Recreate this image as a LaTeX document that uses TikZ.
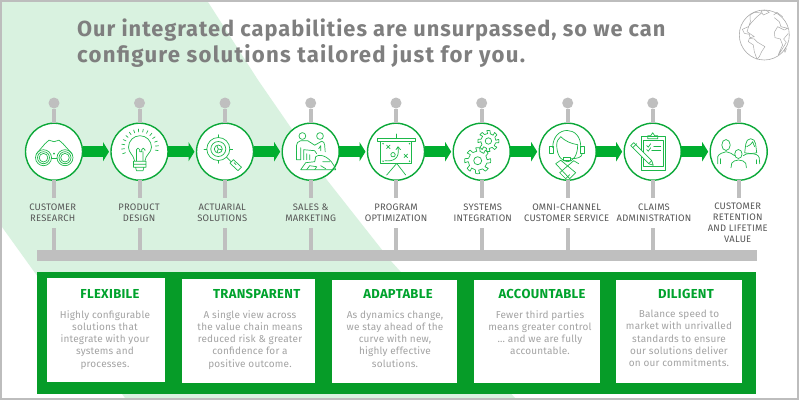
\documentclass[tikz,border=0pt]{standalone}
\usepackage{fontspec}
\setmainfont{Fira Sans}
\newfontfamily\titlefont[LetterSpace=4.5]{Fira Sans}
\newfontfamily\titlefontb[LetterSpace=5.5]{Fira Sans}
\newfontfamily\bodyfont[LetterSpace=2.5]{Fira Sans}
\newfontfamily\cardfont[LetterSpace=1.9]{Fira Sans}
\usetikzlibrary{arrows.meta}
\definecolor{framegray}{HTML}{BDBDBD}
\definecolor{softgreen}{HTML}{D9F2E0}
\definecolor{stemgray}{HTML}{BFBFBF}
\definecolor{ringgreen}{HTML}{0BA838}
\definecolor{arrowgreen}{HTML}{00AE2F}
\definecolor{iconline}{HTML}{1DB84A}
\definecolor{panelgreen}{HTML}{069C28}
\definecolor{headgreen}{HTML}{00A32D}
\definecolor{titlegray}{HTML}{7F7F7F}
\definecolor{bodygray}{HTML}{A3A3A3}
\definecolor{labelgray}{HTML}{555555}
\definecolor{globegray}{HTML}{ABABAB}
\tikzset{
  ring/.style={circle,draw=ringgreen,line width=1.4pt,fill=white,minimum size=57pt,inner sep=0pt,outer sep=0pt},
  pin/.style={circle,fill=stemgray,minimum size=11pt,inner sep=0pt,outer sep=0pt},
  stem/.style={draw=stemgray,line width=4pt},
  flow/.style={draw=arrowgreen,line width=11pt,-{Triangle[length=6pt,width=19pt]},shorten >=2pt},
  steplabel/.style={font=\bodyfont\fontsize{9.4}{11}\selectfont,text=labelgray,align=center,inner sep=0pt,outer sep=0pt,minimum height=30pt,anchor=north},
  cardbox/.style={fill=white,inner sep=0pt,outer sep=0pt,anchor=north west},
  cardhead/.style={font=\fontsize{13}{15}\selectfont\bfseries\bodyfont,text=headgreen,inner sep=0pt},
  cardbody/.style={font=\cardfont\fontsize{10}{12.25}\selectfont,text=bodygray,align=center,inner sep=0pt,anchor=north},
  icon/.style={draw=iconline,line width=0.7pt,line join=round,line cap=round},
  landline/.style={draw=globegray,line width=0.5pt,line join=round}
}
\newcommand{\gearpath}[4]{% teeth outer inner hole
  \pgfmathsetmacro{\gstep}{360/#1}
  \draw[icon] (0:#2) \foreach \gi in {1,...,#1}{
     -- ({(\gi-1)*\gstep+\gstep*.2}:#2) -- ({(\gi-1)*\gstep+\gstep*.32}:#3)
     -- ({(\gi-1)*\gstep+\gstep*.88}:#3) -- ({\gi*\gstep-\gstep*.2}:#2) -- ({\gi*\gstep}:#2)} -- cycle;
  \draw[icon] (0,0) circle (#4);
}
\begin{document}
\begin{tikzpicture}[x=1pt,y=-1pt]
\useasboundingbox (0,0) rectangle (799,400);
\fill[white] (0,0) rectangle (799,400);
\fill[softgreen] (2,2) -- (208,2) -- (258,80) -- (327,180) -- (390,260) -- (515,398) -- (125,398) -- (2,227) -- cycle;
\draw[framegray,line width=2pt] (1,1) rectangle (798,399);

\node[anchor=base west,inner sep=0pt,font=\titlefont\fontsize{21.8}{26}\selectfont\bfseries,text=titlegray] (t1) at (77,36) {Our integrated capabilities are unsurpassed, so we can};
\node[anchor=base west,inner sep=0pt,font=\titlefontb\fontsize{22.2}{26}\selectfont\bfseries,text=titlegray] (t2) at (77,62.5) {configure solutions tailored just for you.};

% bar
\node[fill=stemgray,minimum width=720pt,minimum height=10.7pt,inner sep=0pt,outer sep=0pt] (bar) at (396.7,255.4) {};

% steps
\foreach \n/\x/\lx/\txt in {
  1/54/52.7/{CUSTOMER\\RESEARCH},
  2/139.5/139/{PRODUCT\\DESIGN},
  3/225/222.3/{ACTUARIAL\\SOLUTIONS},
  4/310.7/310.7/{SALES \&\\MARKETING},
  5/396/396/{PROGRAM\\OPTIMIZATION},
  6/481.7/482.7/{SYSTEMS\\INTEGRATION},
  7/567.7/566.7/{OMNI-CHANNEL\\CUSTOMER SERVICE},
  8/652.7/654/{CLAIMS\\ADMINISTRATION}}{
  \node[pin] (p\n) at (\x,103) {};
  \node[ring] (c\n) at (\x,151.7) {};
  \node[steplabel] (l\n) at (\lx,198) {\txt};
  \draw[stem] (p\n) -- (c\n.north);
  \draw[stem] (c\n.south) -- (c\n.south |- l\n.north);
  \draw[stem] (c\n.south |- l\n.south) -- (c\n.south |- bar.north);
}
\node[pin] (p9) at (738.7,103) {};
\node[ring] (c9) at (738.7,151.7) {};
\node[steplabel,minimum height=0pt] (l9) at (737.7,202.5) {CUSTOMER\\RETENTION\\AND LIFETIME\\VALUE};
\coordinate (e9) at (738.7,198);
\draw[stem] (p9) -- (c9.north);
\draw[stem] (c9.south) -- (e9);

% arrows
\foreach \a/\b in {1/2,2/3,3/4,4/5,5/6,6/7,7/8,8/9}{
  \draw[flow] (c\a.east) -- (c\b.west);
}

% cards
\node[fill=panelgreen,inner sep=0pt,outer sep=0pt,anchor=north west,minimum width=719.5pt,minimum height=122.5pt] (panel) at (36.7,271.7) {};
\node[cardbox,minimum width=118.6pt,minimum height=103.7pt] (b1) at (46.7,278.3) {};
\node[cardbox,minimum width=132.7pt,minimum height=103.5pt] (b2) at (182.3,279) {};
\node[cardbox,minimum width=125pt,minimum height=103pt] (b3) at (332.3,280) {};
\node[cardbox,minimum width=125.7pt,minimum height=103pt] (b4) at (474.3,280) {};
\node[cardbox,minimum width=125.7pt,minimum height=103pt] (b5) at (616,280) {};
\node[cardhead] (h1) at (110,294) {FLEXIBILE};
\node[cardhead] (h2) at (256.7,294) {TRANSPARENT};
\node[cardhead] (h3) at (398,294) {ADAPTABLE};
\node[cardhead] (h4) at (542,294) {ACCOUNTABLE};
\node[cardhead] (h5) at (686,294) {DILIGENT};
\node[cardbody] (d1) at (105,310) {Highly configurable\\solutions that\\integrate with your\\systems and\\processes.};
\node[cardbody] (d2) at (250,310) {A single view across\\the value chain means\\reduced risk \& greater\\confidence for a\\positive outcome.};
\node[cardbody] (d3) at (395,310) {As dynamics change,\\we stay ahead of the\\curve with new,\\highly effective\\solutions.};
\node[cardbody] (d4) at (540,310) {Fewer third parties\\means greater control\\\dots\ and we are fully\\accountable.};
\node[cardbody] (d5) at (679,310) {Balance speed to\\market with unrivalled\\standards to ensure\\our solutions deliver\\on our commitments.};

% icon 1 binoculars
\begin{scope}[shift={(c1.center)}]
  \draw[icon] (-10.5,6) circle (8) (-10.5,6) circle (6) (-10.5,6) circle (4.3);
  \draw[icon] (11,6) circle (8) (11,6) circle (6) (11,6) circle (4.3);
  \draw[icon] (-17.5,2) -- (-9,-8) -- (-5,-11.5) -- (0,-10) -- (5,-11.5) -- (9,-8) -- (18,2);
  \fill[iconline] (0,2) circle (1);
  \draw[icon] (-2.5,7) -- (2.8,7);
\end{scope}
% icon 2 bulb
\begin{scope}[shift={(c2.center)}]
  \draw[icon] (-5,9) .. controls (-6,3) and (-11,1) .. (-11,-4.5) arc (180:360:11.5) .. controls (12,1) and (6,3) .. (5.5,9);
  \draw[icon] (-3,9) -- (-3,-2) arc (180:360:1.6) -- (0.2,0) -- (2.2,0) -- (2.2,-2) arc (180:360:1.6) -- (5.4,-1) (3.5,0) -- (3.5,9);
  \draw[icon] (-6,9.5) -- (6.5,9.5) (-6,12.5) -- (6.5,12.5) (-6,15.5) -- (6.5,15.5) (-6,9.5) -- (-6,15.5) (6.5,9.5) -- (6.5,15.5) (-4,15.5) -- (-3,19) -- (3.5,19) -- (4.5,15.5);
  \foreach \ang in {-20,-5,...,200}{ \draw[icon,shift={(0.5,-4.3)}] (\ang+180:15.5) -- (\ang+180:18.5); }
\end{scope}
% icon 3 magnifier
\begin{scope}[shift={(c3.center)}]
  \draw[icon] (-6.7,-2.7) circle (11.5) (-6.7,-2.7) circle (7.5) (-6.7,-2.7) circle (4);
  \draw[icon] (-6.7,-2.7) -- (-3.3,-2) (-6.7,-2.7) -- (-8,-5.5) (-6.7,-2.7) -- (-8,0.5);
  \draw[icon] (-21,-2.7) -- (-18.2,-2.7) (7.6,-2.7) -- (4.8,-2.7) (-6.7,-17) -- (-6.7,-14.2) (-6.7,11.6) -- (-6.7,8.8);
  \draw[icon] (1.5,5.5) -- (6,10);
  \draw[icon] (5,11.5) -- (8.5,8) -- (16.5,15.5) -- (13,19) -- cycle;
  \draw[icon] (9,11) -- (11,13);
\end{scope}
% icon 4 meeting
\begin{scope}[shift={(c4.center)}]
  \draw[icon] (-8.3,-15.7) circle (3.4) (9.3,-15.7) circle (3.4);
  \draw[icon] (-14.3,-1) -- (-14.3,-6) arc (180:260:5) -- (-3,-11) -- (4,-6.5) -- (11,-10.5) arc (280:360:3.5) -- (14.5,0);
  \draw[icon] (-14.3,-1) -- (-14.3,8) -- (-10,8) -- (-10,-4) (-7,8) -- (-7,-2) -- (4,-1) -- (6,2) (-4,8) -- (-4,2) (-1,8) -- (-1,3);
  \draw[icon] (-10,18) -- (-5,11) -- (4,10) -- (5,5) .. controls (10,1) and (21,6) .. (25,18) -- cycle;
  \draw[icon] (-4,18) -- (-1,14) -- (6,15) -- (4,18) (12,10) -- (19,10) (10,14) -- (15,17);
  \draw[icon] (8,-3) -- (10,-6) -- (10,-1);
\end{scope}
% icon 5 board
\begin{scope}[shift={(c5.center)}]
  \draw[icon] (-18.7,-13.3) rectangle (19,-10);
  \draw[icon] (0.7,-17.7) -- (0.7,-13.3);
  \draw[icon] (-15.3,-10) rectangle (15.7,11.7);
  \draw[icon] (0.7,11.7) -- (-9.3,23.3) (0.7,11.7) -- (9.7,23.3);
  \draw[icon] (-9.5,-6.5) -- (-6,-3) (-9.5,-3) -- (-6,-6.5) (8,2.5) -- (11.5,6) (8,6) -- (11.5,2.5);
  \draw[icon] (-3,3) circle (2.2);
  \draw[icon] (-11,9) .. controls (-3,10) and (4,7) .. (2,-4) (0,-2) -- (2,-5) -- (4.5,-2);
  \fill[iconline] (-13,-8) circle (.8) (13.5,-8) circle (.8) (-13,9.5) circle (.8) (13.5,9.5) circle (.8);
\end{scope}
% icon 6 gears
\begin{scope}[shift={(c6.center)}]
  \begin{scope}[shift={(-4,9)}]\gearpath{8}{13}{9.5}{4}\end{scope}
  \begin{scope}[shift={(6.7,-10.7)}]\gearpath{8}{10.5}{7.5}{3.2}\end{scope}
\end{scope}
% icon 7 agent
\begin{scope}[shift={(c7.center)}]
  \draw[icon] (-15,-4) .. controls (-15,-27) and (14,-27) .. (13,-4);
  \draw[icon] (-18,-5) rectangle (-14.3,2) (12.7,-5) rectangle (16.7,2);
  \draw[icon] (-11,-7) .. controls (-11,4) and (-6,10) .. (0,10) .. controls (5,10) and (10,4) .. (10,-7) .. controls (3,-8) and (-3,-11) .. (-7,-15) .. controls (-9,-13) and (-11,-11) .. (-11,-7);
  \draw[icon] (14.5,2) .. controls (14,6) and (9,7) .. (3,7);
  \draw[icon] (-4,5.5) rectangle (3,9);
  \draw[icon] (-12,12) -- (-7,8.5) -- (8,21) -- (2,27) -- cycle;
  \draw[icon] (11,12) -- (6,9) -- (-8,21) -- (-2,27) -- (2,23);
\end{scope}
% icon 8 clipboard
\begin{scope}[shift={(c8.center)}]
  \draw[icon] (-11.7,-15) rectangle (12.7,18.3);
  \draw[icon] (-9,-11.5) rectangle (10.5,15);
  \draw[icon] (-5,-13) -- (-5,-16) -- (-2,-16) -- (0,-19) -- (2,-16) -- (5,-16) -- (5,-13) -- cycle;
  \draw[icon] (1,-5.7) -- (8,-5.7) (-1,-1.7) -- (8,-1.7);
  \draw[icon] (-6,-6) -- (-4.5,-4.5) -- (-2,-8) (-6,-2) -- (-4.5,-.5) -- (-2,-4);
  \draw[icon,fill=white] (-22,-6) -- (-19,-9) -- (-1,9) -- (-4,12) -- cycle;
  \draw[icon] (-1,9) -- (0.5,13.5) -- (-4,12) (-20,-4) -- (-16,-8);
\end{scope}
% icon 9 people
\begin{scope}[shift={(c9.center)}]
  \draw[icon] (-12.7,-6.7) ellipse (4.2 and 5.5);
  \draw[icon] (-21,12) -- (-21,5) .. controls (-20,2) and (-16,1) .. (-12.7,0) .. controls (-9,1) and (-6,2) .. (-4,4);
  \draw[icon] (-18.5,12) -- (-18.5,7);
  \draw[icon] (-0.3,2.3) ellipse (3.7 and 4.5);
  \draw[icon] (-7.7,16) -- (-7,11.5) .. controls (-6,9) and (-3,9) .. (-0.3,8.3) .. controls (3,9) and (6,9) .. (7,11.5) -- (7.7,16);
  \draw[icon] (6,1) .. controls (7,-4) and (6,-13) .. (12,-13) .. controls (18,-13) and (17,-4) .. (18,1) .. controls (15,2) and (9,2) .. (6,1);
  \draw[icon] (8,-5) .. controls (11,-6) and (13,-8) .. (14,-10) .. controls (15,-8) and (15,-6) .. (16,-5);
  \draw[icon] (4.5,4) .. controls (6,2) and (9,2) .. (12,2) .. controls (16,2) and (20,3) .. (20.5,6) -- (21,12);
  \draw[icon] (18,12) -- (18,8);
\end{scope}

% globe
\node[circle,draw=globegray,line width=0.6pt,minimum size=50pt,inner sep=0pt,fill=white] (globe) at (764.3,35) {};
\begin{scope}[shift={(globe.center)},x=0.333pt,y=-0.333pt]
  \draw[landline] (-43,-60) -- (-30,-68) -- (-8,-66) -- (-22,-55) -- (-38,-38) -- (-48,-25) -- (-66,-17) -- (-60,-5) -- (-45,-2) -- (-43,8) -- (-30,5) -- (-52,-10) -- (-42,-40) -- cycle;
  \draw[landline] (-10,-72) -- (5,-74) -- (15,-68) -- (-3,-60) -- cycle;
  \draw[landline] (-45,10) -- (-30,12) -- (-20,22) -- (2,35) -- (-8,50) -- (-15,65) -- (-22,73) -- (-30,50) -- (-33,30) -- (-48,20) -- cycle;
  \draw[landline] (30,-52) -- (45,-40) -- (50,-25) -- (70,-20) -- (60,-15) -- (40,-25) -- (30,-8) -- (32,8) -- (48,12) -- (55,30) -- (45,52) -- (42,60) -- (52,45) -- (66,22) -- (58,12) -- (68,0) -- (72,-5);
  \draw[landline] (28,-60) -- (38,-68) -- (55,-55);
  \draw[landline] (60,45) -- (64,38) -- (66,42) -- (62,52) -- cycle;
\end{scope}
\end{tikzpicture}
\end{document}
